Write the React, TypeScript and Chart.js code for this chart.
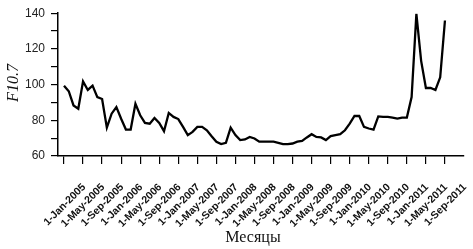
import React, { useEffect, useRef } from "react";
import { Chart, registerables } from "chart.js";

Chart.register(...registerables);

const tickLabels = [
  "1-Jan-2005", "1-May-2005", "1-Sep-2005",
  "1-Jan-2006", "1-May-2006", "1-Sep-2006",
  "1-Jan-2007", "1-May-2007", "1-Sep-2007",
  "1-Jan-2008", "1-May-2008", "1-Sep-2008",
  "1-Jan-2009", "1-May-2009", "1-Sep-2009",
  "1-Jan-2010", "1-May-2010", "1-Sep-2010",
  "1-Jan-2011", "1-May-2011", "1-Sep-2011",
];

// monthly F10.7 values, Jan 2005 .. Sep 2011
const f107 = [
  99.4, 96.3, 88.3, 86.5, 101.8, 97, 99.4, 93, 91.9, 75.9, 83.7, 87.4,
  80.9, 74.8, 74.8, 89.3, 82.8, 78.5, 78.1, 81.3, 78.5, 73.9, 84.1, 81.9,
  80.7, 76.3, 71.7, 73.5, 76.3, 76.3, 74.4, 71.1, 68, 66.7, 67.4, 75.9,
  71.7, 68.9, 69.3, 70.7, 69.8, 68, 68, 68, 68, 67.4, 66.7, 66.7,
  67, 68, 68.5, 70.4, 72.2, 70.7, 70.4, 68.9, 71.1, 71.7, 72.2, 74.4,
  78.1, 82.4, 82.4, 76.3, 75.4, 74.8, 82.2, 81.9, 81.9, 81.5, 80.9, 81.5,
  81.5, 93, 139.6, 113.3, 98.1, 98.1, 97, 104.1, 135.9,
];

const xTitle = "Месяцы";
const yTitle = "F10.7";

export default function App() {
  const ref = useRef<HTMLCanvasElement | null>(null);

  useEffect(() => {
    if (!ref.current) return;
    const titles = {
      id: "titles",
      afterDraw(chart: any) {
        const ctx = chart.ctx;
        ctx.save();
        ctx.fillStyle = "#111";
        ctx.textAlign = "center";
        ctx.textBaseline = "middle";
        ctx.font = '16px "Liberation Serif", serif';
        ctx.fillText(xTitle, 253, 238);
        ctx.translate(14, 83);
        ctx.rotate(-Math.PI / 2);
        ctx.font = 'italic 16px "Liberation Serif", serif';
        ctx.fillText(yTitle, 0, 0);
        ctx.restore();
      },
    };
    const chart = new Chart(ref.current, {
      type: "line",
      data: {
        datasets: [
          {
            data: f107.map((v, i) => ({ x: i, y: v })),
            borderColor: "#000",
            borderWidth: 2.3,
            pointRadius: 0,
            tension: 0,
            fill: false,
          },
        ],
      },
      options: {
        animation: false,
        responsive: false,
        devicePixelRatio: 1,
        layout: { padding: { top: 12, right: 9, left: 0, bottom: 0 } },
        plugins: { legend: { display: false }, tooltip: { enabled: false } },
        scales: {
          x: {
            type: "linear",
            min: -1.26,
            max: 84,
            afterBuildTicks: (scale: any) => {
              scale.ticks = tickLabels.map((_, i) => ({ value: i * 4 }));
            },
            afterFit: (scale: any) => {
              scale.height = 93;
            },
            grid: {
              display: true,
              drawOnChartArea: false,
              drawTicks: true,
              tickLength: 8,
              color: "#000",
              lineWidth: 1.2,
            },
            border: { display: true, color: "#000", width: 1.5 },
            ticks: {
              autoSkip: false,
              minRotation: 45,
              maxRotation: 45,
              labelOffset: 20,
              padding: 17,
              color: "#111",
              font: { family: '"Liberation Sans", Arial, sans-serif', size: 10.5, weight: "bold" },
              callback: (v: any) => tickLabels[Math.round(Number(v) / 4)] ?? "",
            },
          },
          y: {
            min: 60,
            max: 140,
            afterFit: (scale: any) => {
              scale.width = 58;
            },
            grid: {
              display: true,
              drawOnChartArea: false,
              drawTicks: true,
              tickLength: 7,
              color: "#000",
              lineWidth: 1.2,
            },
            border: { display: true, color: "#000", width: 1.5 },
            ticks: {
              stepSize: 10,
              padding: 6,
              color: "#222",
              font: { family: '"Liberation Sans", Arial, sans-serif', size: 12 },
              callback: (v: any) => (Number(v) % 20 === 0 ? String(v) : ""),
            },
          },
        },
      },
      plugins: [titles],
    });
    return () => chart.destroy();
  }, []);

  return (
    <div style={{ position: "absolute", left: 0, top: 0, width: 473, height: 249, background: "#fff" }}>
      <canvas ref={ref} width={473} height={249} />
    </div>
  );
}
